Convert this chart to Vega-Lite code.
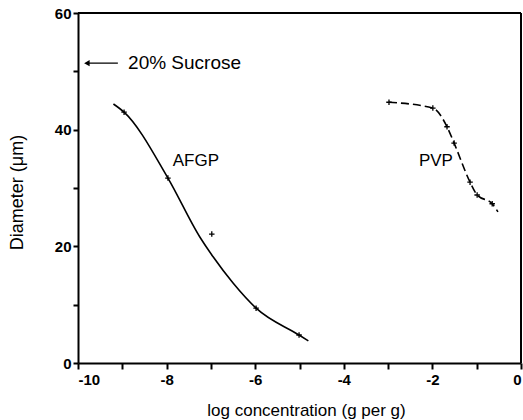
{
  "$schema": "https://vega.github.io/schema/vega-lite/v6.json",
  "width": 443,
  "height": 350,
  "autosize": {"type": "none"},
  "padding": {"left": 78, "top": 13, "right": 2, "bottom": 57},
  "background": "white",
  "view": {"stroke": null},
  "datasets": {
    "curves": [
      {"series": "AFGP", "x": -9.2, "y": 44.4},
      {"series": "AFGP", "x": -8.96, "y": 43.0},
      {"series": "AFGP", "x": -7.97, "y": 31.7},
      {"series": "AFGP", "x": -7.25, "y": 21.6},
      {"series": "AFGP", "x": -6.95, "y": 18.2},
      {"series": "AFGP", "x": -6.5, "y": 13.7},
      {"series": "AFGP", "x": -5.98, "y": 9.4},
      {"series": "AFGP", "x": -5.01, "y": 4.8},
      {"series": "AFGP", "x": -4.8, "y": 3.8},
      {"series": "PVP", "x": -2.98, "y": 44.7},
      {"series": "PVP", "x": -1.99, "y": 43.7},
      {"series": "PVP", "x": -1.67, "y": 40.5},
      {"series": "PVP", "x": -1.51, "y": 37.7},
      {"series": "PVP", "x": -1.15, "y": 31.0},
      {"series": "PVP", "x": -0.99, "y": 28.8},
      {"series": "PVP", "x": -0.65, "y": 27.3},
      {"series": "PVP", "x": -0.52, "y": 25.9}
    ],
    "points": [
      {"series": "AFGP", "x": -8.96, "y": 43.0},
      {"series": "AFGP", "x": -7.97, "y": 31.7},
      {"series": "AFGP", "x": -6.98, "y": 22.1},
      {"series": "AFGP", "x": -5.98, "y": 9.4},
      {"series": "AFGP", "x": -5.01, "y": 4.8},
      {"series": "PVP", "x": -2.98, "y": 44.7},
      {"series": "PVP", "x": -1.99, "y": 43.7},
      {"series": "PVP", "x": -1.67, "y": 40.5},
      {"series": "PVP", "x": -1.51, "y": 37.7},
      {"series": "PVP", "x": -1.15, "y": 31.0},
      {"series": "PVP", "x": -0.99, "y": 28.8},
      {"series": "PVP", "x": -0.65, "y": 27.3}
    ],
    "labels": [
      {"text": "AFGP", "x": -7.34, "y": 34.6},
      {"text": "PVP", "x": -1.92, "y": 34.6}
    ],
    "note": [{"text": "20% Sucrose", "x": -8.87, "y": 51.4}],
    "arrow": [{"x": -9.82, "x2": -9.1, "y": 51.4}],
    "arrowhead": [{"x": -9.8, "y": 51.4}],
    "frameTop": [{"x": -10, "x2": 0, "y": 60}],
    "frameRight": [{"x": 0, "y": 0, "y2": 60}]
  },
  "encoding": {
    "x": {
      "field": "x", "type": "quantitative",
      "scale": {"domain": [-10, 0], "nice": false, "zero": false},
      "axis": {
        "title": "log concentration (g per g)",
        "values": [-10, -9, -8, -7, -6, -5, -4, -3, -2, -1, 0],
        "labelExpr": "datum.value % 2 == 0 ? (datum.value < 0 ? '-' + abs(datum.value) : '' + datum.value) : ''",
        "grid": false,
        "ticks": true,
        "tickSize": 6,
        "tickWidth": 2,
        "tickColor": "black",
        "domainColor": "black",
        "domainWidth": 2,
        "labelFont": "Liberation Sans",
        "labelFontWeight": "bold",
        "labelFontSize": 15,
        "labelColor": "black",
        "labelPadding": 3,
        "labelOverlap": false,
        "titleFont": "Liberation Sans",
        "titleFontWeight": "normal",
        "titleFontSize": 17,
        "titleColor": "black",
        "titleX": 228,
        "titleY": 47,
        "titleBaseline": "middle"
      }
    },
    "y": {
      "field": "y", "type": "quantitative",
      "scale": {"domain": [0, 60], "nice": false},
      "axis": {
        "title": "Diameter (μm)",
        "values": [0, 10, 20, 30, 40, 50, 60],
        "labelExpr": "datum.value % 20 == 0 ? '' + datum.value : ''",
        "grid": false,
        "ticks": true,
        "tickSize": 5,
        "tickWidth": 2,
        "tickColor": "black",
        "domainColor": "black",
        "domainWidth": 2,
        "labelFont": "Liberation Sans",
        "labelFontWeight": "bold",
        "labelFontSize": 15,
        "labelColor": "black",
        "labelPadding": 2,
        "labelOverlap": false,
        "titleFont": "Liberation Sans",
        "titleFontWeight": "normal",
        "titleFontSize": 18,
        "titleColor": "black",
        "titleX": -61,
        "titleY": 179,
        "titleBaseline": "middle"
      }
    }
  },
  "layer": [
    {
      "data": {"name": "frameTop"},
      "mark": {"type": "rule", "color": "black", "strokeWidth": 2},
      "encoding": {"x2": {"field": "x2"}}
    },
    {
      "data": {"name": "frameRight"},
      "mark": {"type": "rule", "color": "black", "strokeWidth": 2},
      "encoding": {"y2": {"field": "y2"}}
    },
    {
      "data": {"name": "curves"},
      "transform": [{"filter": "datum.series == 'AFGP'"}],
      "mark": {"type": "line", "interpolate": "monotone", "color": "black", "strokeWidth": 1.6}
    },
    {
      "data": {"name": "curves"},
      "transform": [{"filter": "datum.series == 'PVP'"}],
      "mark": {"type": "line", "interpolate": "monotone", "color": "black", "strokeWidth": 1.6, "strokeDash": [8, 4]}
    },
    {
      "data": {"name": "points"},
      "mark": {"type": "point", "shape": "M-1,0L1,0M0,-1L0,1", "size": 30, "filled": false, "stroke": "black", "strokeWidth": 1.3, "opacity": 1}
    },
    {
      "data": {"name": "labels"},
      "mark": {"type": "text", "font": "Liberation Sans", "fontSize": 17, "color": "black", "align": "center", "baseline": "middle"},
      "encoding": {"text": {"field": "text"}}
    },
    {
      "data": {"name": "note"},
      "mark": {"type": "text", "font": "Liberation Sans", "fontSize": 19, "color": "black", "align": "left", "baseline": "middle"},
      "encoding": {"text": {"field": "text"}}
    },
    {
      "data": {"name": "arrow"},
      "mark": {"type": "rule", "color": "black", "strokeWidth": 1.3},
      "encoding": {"x2": {"field": "x2"}}
    },
    {
      "data": {"name": "arrowhead"},
      "mark": {"type": "point", "shape": "triangle-left", "size": 40, "filled": true, "color": "black", "opacity": 1}
    }
  ]
}
